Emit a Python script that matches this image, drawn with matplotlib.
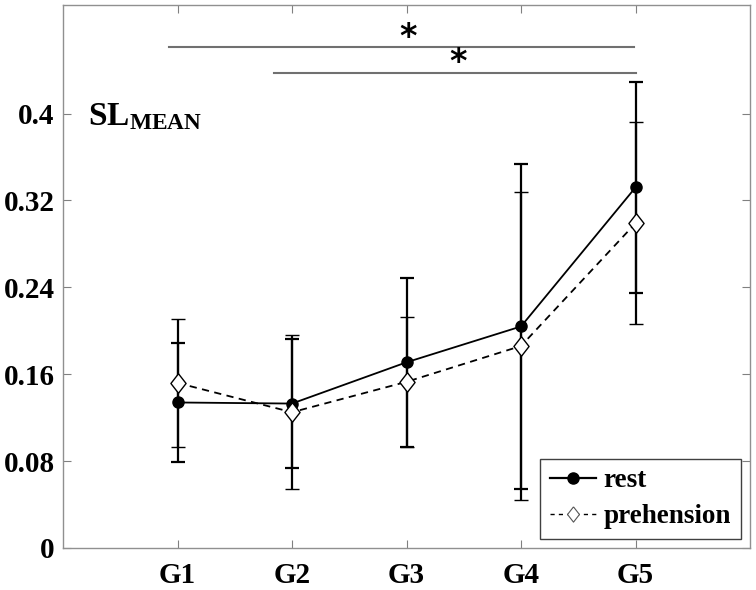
import matplotlib
matplotlib.use("Agg")
import matplotlib.pyplot as plt
from matplotlib.lines import Line2D

groups = ["G1", "G2", "G3", "G4", "G5"]
rest_mean = [0.134, 0.133, 0.171, 0.204, 0.332]
rest_err = [0.055, 0.059, 0.078, 0.150, 0.097]
preh_mean = [0.152, 0.125, 0.153, 0.186, 0.299]
preh_err = [0.059, 0.071, 0.060, 0.142, 0.093]
yticks = [0, 0.08, 0.16, 0.24, 0.32, 0.4]
ytick_labels = ["0", "0.08", "0.16", "0.24", "0.32", "0.4"]

plt.rcParams["font.family"] = ["Liberation Serif", "DejaVu Serif"]
plt.rcParams["font.weight"] = "bold"
plt.rcParams["mathtext.fontset"] = "custom"
plt.rcParams["mathtext.rm"] = "Liberation Serif"
plt.rcParams["mathtext.bf"] = "Liberation Serif:bold"

fig = plt.figure(figsize=(7.56, 5.90), dpi=100)
ax = fig.add_axes([63 / 756, 42 / 590, 687 / 756, 543 / 590])

x = list(range(1, len(groups) + 1))
diamond = [(0, 1), (0.78, 0), (0, -1), (-0.78, 0), (0, 1)]

ax.errorbar(x, rest_mean, yerr=rest_err, color="black", lw=1.3, marker="o",
            ms=8, mfc="black", mec="black", ecolor="black", elinewidth=1.6,
            capsize=5, capthick=1.6, zorder=3)
ax.errorbar(x, preh_mean, yerr=preh_err, color="black", lw=1.3, ls="--",
            dashes=(4, 3), marker=diamond, ms=14, mfc="white", mec="black",
            mew=1.0, ecolor="black", elinewidth=1.6, capsize=5, capthick=1.6,
            zorder=4)

# significance bars
gray = "#707070"
ax.plot([0.93, 4.99], [0.461, 0.461], color=gray, lw=1.5)
ax.plot([1.84, 5.0], [0.437, 0.437], color=gray, lw=1.5)
ax.text(3.01, 0.4705, "*", family="DejaVu Sans", fontsize=24,
        ha="center", va="center")
ax.text(3.45, 0.4475, "*", family="DejaVu Sans", fontsize=24,
        ha="center", va="center")

ax.text(0.036, 0.779, r"$\mathbf{SL_{MEAN}}$", transform=ax.transAxes,
        fontsize=24, ha="left", va="baseline")

ax.set_xlim(0, 6)
ax.set_ylim(0, 0.5)
ax.set_xticks(x)
ax.set_xticklabels(groups, fontsize=21, fontweight="bold")
ax.set_yticks(yticks)
ax.set_yticklabels(ytick_labels, fontsize=21, fontweight="bold")
ax.tick_params(axis="both", direction="in", top=True, right=True,
               length=6, width=0.8, color="#808080")
ax.tick_params(axis="x", pad=10)
ax.tick_params(axis="y", pad=6)
for s in ax.spines.values():
    s.set_color("#909090")
    s.set_linewidth(1.0)

handles = [
    Line2D([], [], color="black", lw=1.6, marker="o", ms=8, mfc="black"),
    Line2D([], [], color="black", lw=1.0, ls="--", dashes=(3, 3),
           marker=diamond, ms=11, mfc="white", mec="#555555", mew=0.8),
]
leg = ax.legend(handles, ["rest", "prehension"], loc="lower right",
                fontsize=19.5, frameon=True, fancybox=False,
                edgecolor="#404040", framealpha=1, borderaxespad=0.35,
                handlelength=1.7, handletextpad=0.3, borderpad=0.35,
                labelspacing=0.4)
leg.get_frame().set_linewidth(1.0)

fig.savefig("out.png", dpi=100)
